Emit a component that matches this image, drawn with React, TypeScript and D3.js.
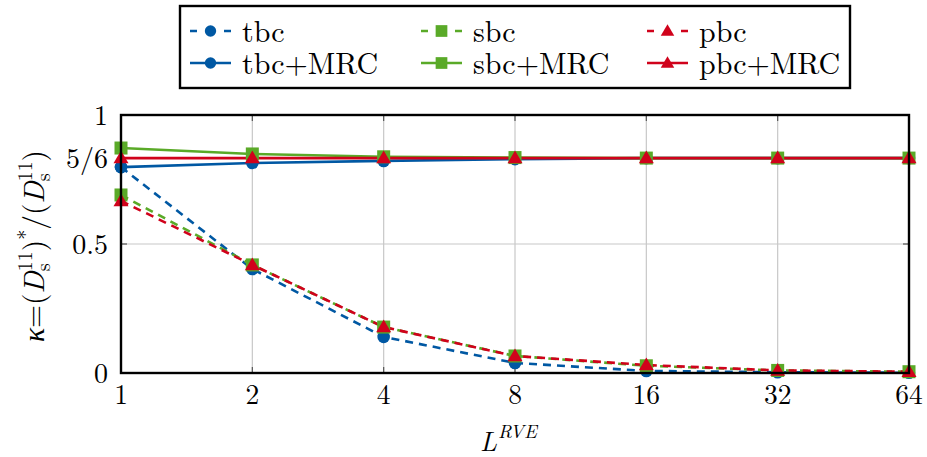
import React from "react";
import * as d3 from "d3";

const xValues = [1, 2, 4, 8, 16, 32, 64];
const xTickLabels = ["1", "2", "4", "8", "16", "32", "64"];
const yTicks = [0, 0.5, 5 / 6, 1];
const yTickLabels = ["0", "0.5", "5/6", "1"];

const tbc = [0.798, 0.403, 0.14, 0.039, 0.008, 0.003, 0.001];
const sbc = [0.69, 0.419, 0.178, 0.066, 0.028, 0.01, 0.005];
const pbc = [0.667, 0.419, 0.178, 0.066, 0.031, 0.01, 0.005];
const tbcMRC = [0.798, 0.814, 0.822, 0.829, 0.833, 0.833, 0.833];
const sbcMRC = [0.872, 0.849, 0.838, 0.835, 0.833, 0.833, 0.833];
const pbcMRC = [0.833, 0.833, 0.833, 0.833, 0.833, 0.833, 0.833];

const BLUE = "#0058a3";
const GREEN = "#5aaa28";
const RED = "#d0021b";

type Series = { name: string; values: number[]; color: string; dashed: boolean; marker: string };
const series: Series[] = [
  { name: "tbc", values: tbc, color: BLUE, dashed: true, marker: "circle" },
  { name: "sbc", values: sbc, color: GREEN, dashed: true, marker: "square" },
  { name: "pbc", values: pbc, color: RED, dashed: true, marker: "triangle" },
  { name: "tbc+MRC", values: tbcMRC, color: BLUE, dashed: false, marker: "circle" },
  { name: "sbc+MRC", values: sbcMRC, color: GREEN, dashed: false, marker: "square" },
  { name: "pbc+MRC", values: pbcMRC, color: RED, dashed: false, marker: "triangle" },
];

const FONT = "'Latin Modern Roman', 'Liberation Serif', 'DejaVu Serif', serif";

function Marker({ type, x, y, color, s = 1 }: { type: string; x: number; y: number; color: string; s?: number }) {
  if (type === "circle") return <circle cx={x} cy={y} r={6.3 * s} fill={color} />;
  if (type === "square") return <rect x={x - 6.5 * s} y={y - 6.5 * s} width={13 * s} height={13 * s} fill={color} />;
  const h = 7.5 * s;
  return <path d={`M${x},${y - h} L${x + h},${y + h * 0.7} L${x - h},${y + h * 0.7} Z`} fill={color} />;
}

export default function App() {
  const W = 927, H = 457;
  const left = 121, right = 909, top = 115, bottom = 373;
  const x = d3.scaleLog().base(2).domain([1, 64]).range([left, right]);
  const y = d3.scaleLinear().domain([0, 1]).range([bottom, top]);
  const line = d3.line<number>().x((_, i) => x(xValues[i])).y((d) => y(d));

  const legendX = 180, legendY = 6, legendW = 670, legendH = 82;
  const colX = [190, 421, 647];
  const rowY = [31, 63];

  return (
    <svg width={W} height={H} style={{ position: "absolute", left: 0, top: 0, background: "#fff", fontFamily: FONT }} fontFamily={FONT}>
      <rect width={W} height={H} fill="#fff" />
      {/* grid */}
      {xValues.map((v, i) => (
        <line key={"gx" + i} x1={x(v)} x2={x(v)} y1={top} y2={bottom} stroke="#c8c8c8" strokeWidth={1.2} />
      ))}
      {yTicks.map((v, i) => (
        <line key={"gy" + i} x1={left} x2={right} y1={y(v)} y2={y(v)} stroke="#c8c8c8" strokeWidth={1.2} />
      ))}
      {/* ticks */}
      {xValues.map((v, i) => (
        <g key={"tx" + i}>
          <line x1={x(v)} x2={x(v)} y1={bottom} y2={bottom - 6} stroke="#555" strokeWidth={1.2} />
          <line x1={x(v)} x2={x(v)} y1={top} y2={top + 6} stroke="#555" strokeWidth={1.2} />
        </g>
      ))}
      {yTicks.map((v, i) => (
        <g key={"ty" + i}>
          <line x1={left} x2={left + 6} y1={y(v)} y2={y(v)} stroke="#555" strokeWidth={1.2} />
          <line x1={right} x2={right - 6} y1={y(v)} y2={y(v)} stroke="#555" strokeWidth={1.2} />
        </g>
      ))}
      {/* series lines */}
      {series.map((s) => (
        <path
          key={s.name + "l"}
          d={line(s.values) || ""}
          fill="none"
          stroke={s.color}
          strokeWidth={2.6}
          strokeDasharray={s.dashed ? "8 6" : undefined}
        />
      ))}
      {series.map((s) => (
        <g key={s.name + "m"}>
          {s.values.map((v, i) => (
            <Marker key={i} type={s.marker} x={x(xValues[i])} y={y(v)} color={s.color} />
          ))}
        </g>
      ))}
      {/* frame */}
      <rect x={left} y={top} width={right - left} height={bottom - top} fill="none" stroke="#000" strokeWidth={2.4} />
      {/* tick labels */}
      {xValues.map((v, i) => (
        <text key={"xl" + i} x={x(v)} y={bottom + 31} textAnchor="middle" fontSize={27.5}>
          {xTickLabels[i]}
        </text>
      ))}
      {yTicks.map((v, i) => (
        <text key={"yl" + i} x={left - 13} y={y(v) + 9.5} textAnchor="end" fontSize={28}>
          {yTickLabels[i]}
        </text>
      ))}
      {/* x label */}
      <text x={480} y={451} fontSize={27} fontStyle="italic">
        L<tspan dy={-13} dx={1} fontSize={19}>RVE</tspan>
      </text>
      {/* y label */}
      <text transform={`translate(44,246) rotate(-90)`} textAnchor="middle" fontSize={29.5}>
        <tspan fontStyle="italic">κ</tspan>
        <tspan>=(</tspan>
        <tspan fontStyle="italic">D</tspan>
        <tspan dy={-12} fontSize={20}>11</tspan>
        <tspan dx={-20} dy={18} fontSize={20}>s</tspan>
        <tspan dx={12} dy={-6}>)</tspan>
        <tspan dy={-12} fontSize={20}>*</tspan>
        <tspan dy={12}>/(</tspan>
        <tspan fontStyle="italic">D</tspan>
        <tspan dy={-12} fontSize={20}>11</tspan>
        <tspan dx={-20} dy={18} fontSize={20}>s</tspan>
        <tspan dx={12} dy={-6}>)</tspan>
      </text>
      {/* legend */}
      <rect x={legendX} y={legendY} width={legendW} height={legendH} fill="#fff" stroke="#000" strokeWidth={2.4} />
      {series.map((s, i) => {
        const cx = colX[i % 3];
        const cy = rowY[Math.floor(i / 3)];
        return (
          <g key={s.name + "lg"}>
            <line
              x1={cx}
              x2={cx + 41}
              y1={cy}
              y2={cy}
              stroke={s.color}
              strokeWidth={2.6}
              strokeDasharray={s.dashed ? "7 27" : undefined}
            />
            <Marker type={s.marker} x={cx + 20.5} y={cy} color={s.color} s={0.9} />
            <text x={cx + 52} y={cy + 10.5} fontSize={30}>
              {s.name}
            </text>
          </g>
        );
      })}
    </svg>
  );
}
